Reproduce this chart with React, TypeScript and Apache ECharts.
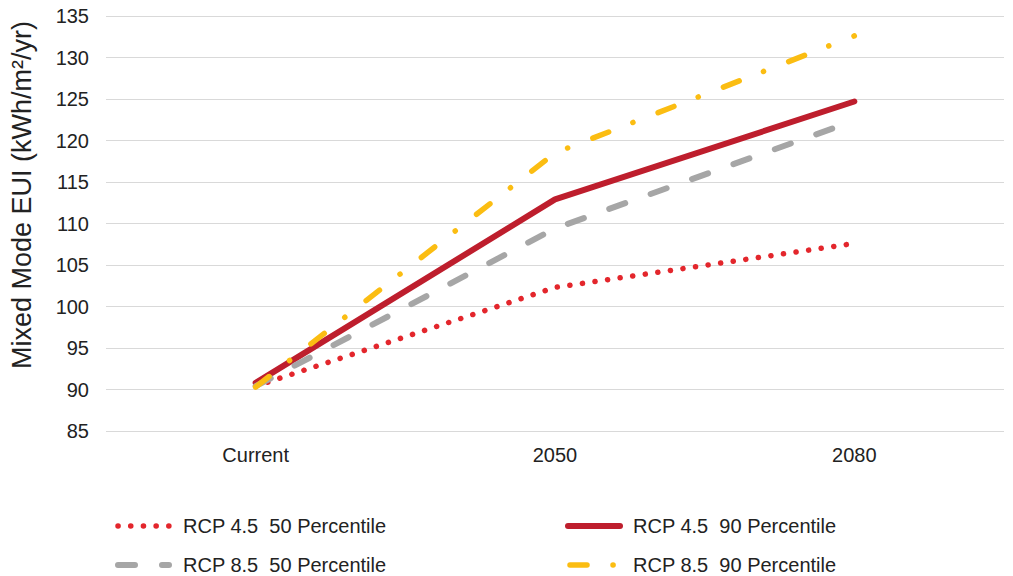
import React, { useEffect, useRef } from "react";
import * as echarts from "echarts";

const categories = ["Current", "2050", "2080"];
const seriesNames = [
  "RCP 4.5  50 Percentile",
  "RCP 4.5  90 Percentile",
  "RCP 8.5  50 Percentile",
  "RCP 8.5  90 Percentile",
];
const rcp45p50 = [90.4, 102.3, 107.6];
const rcp45p90 = [90.8, 112.9, 124.7];
const rcp85p50 = [90.4, 109.4, 122.4];
const rcp85p90 = [90.3, 118.5, 132.6];
const yMin = 85;
const yMax = 135;
const yStep = 5;
const yTitle = "Mixed Mode EUI (kWh/m²/yr)";

const FONT = '"Liberation Sans", Arial, Helvetica, sans-serif';
const TEXT = "#222222";

const styles = [
  { color: "#e3262c", width: 5.5, dash: [0.1, 12.6] as any },
  { color: "#be1e2d", width: 6, dash: "solid" as any },
  { color: "#a6a6a6", width: 6, dash: [17, 27] as any },
  { color: "#fbbd12", width: 5.5, dash: [17, 26, 0.1, 27] as any },
];
const values = [rcp45p50, rcp45p90, rcp85p50, rcp85p90];

// legend layout: [lineX1, lineX2, textX, y]
const legendPos = [
  [118, 169, 183, 526],
  [568, 620, 633, 526],
  [118, 169, 183, 565],
  [570, 620, 633, 565],
];

export default function App() {
  const ref = useRef<HTMLDivElement>(null);
  useEffect(() => {
    if (!ref.current) return;
    const chart = echarts.init(ref.current, null, { renderer: "svg" });
    const graphic: any[] = [];
    seriesNames.forEach((name, i) => {
      const [x1, x2, tx, y] = legendPos[i];
      const s = styles[i];
      graphic.push({
        type: "line",
        shape: { x1, y1: y, x2, y2: y },
        style: {
          stroke: s.color,
          lineWidth: s.width,
          lineDash: Array.isArray(s.dash) ? s.dash : null,
          lineCap: "round",
        },
      });
      graphic.push({
        type: "text",
        x: tx,
        y,
        style: {
          text: name,
          fontSize: 20,
          fontFamily: FONT,
          fill: TEXT,
          align: "left",
          verticalAlign: "middle",
        },
      });
    });
    graphic.push({
      type: "text",
      x: 22,
      y: 195,
      rotation: Math.PI / 2,
      style: {
        text: yTitle,
        fontSize: 27,
        fontFamily: FONT,
        fill: TEXT,
        align: "center",
        verticalAlign: "middle",
      },
    });

    chart.setOption({
      animation: false,
      backgroundColor: "#ffffff",
      grid: { left: 106, top: 16, width: 898, height: 415, containLabel: false },
      xAxis: {
        type: "category",
        data: categories,
        boundaryGap: true,
        axisLine: { show: false },
        axisTick: { show: false },
        axisLabel: { fontSize: 20, fontFamily: FONT, color: TEXT, margin: 14 },
      },
      yAxis: {
        type: "value",
        min: yMin,
        max: yMax,
        interval: yStep,
        axisLine: { show: false },
        axisTick: { show: false },
        axisLabel: { fontSize: 20, fontFamily: FONT, color: TEXT, margin: 17 },
        splitLine: { lineStyle: { color: "#d9d9d9", width: 1 } },
      },
      series: seriesNames.map((name, i) => ({
        name,
        type: "line",
        data: values[i],
        symbol: "none",
        showSymbol: false,
        z: 2 + i,
        lineStyle: {
          color: styles[i].color,
          width: styles[i].width,
          type: styles[i].dash,
          cap: "round",
          join: "round",
        },
      })),
      graphic,
    });
    return () => chart.dispose();
  }, []);
  return (
    <div
      ref={ref}
      style={{ position: "absolute", left: 0, top: 0, width: 1013, height: 576 }}
    />
  );
}
